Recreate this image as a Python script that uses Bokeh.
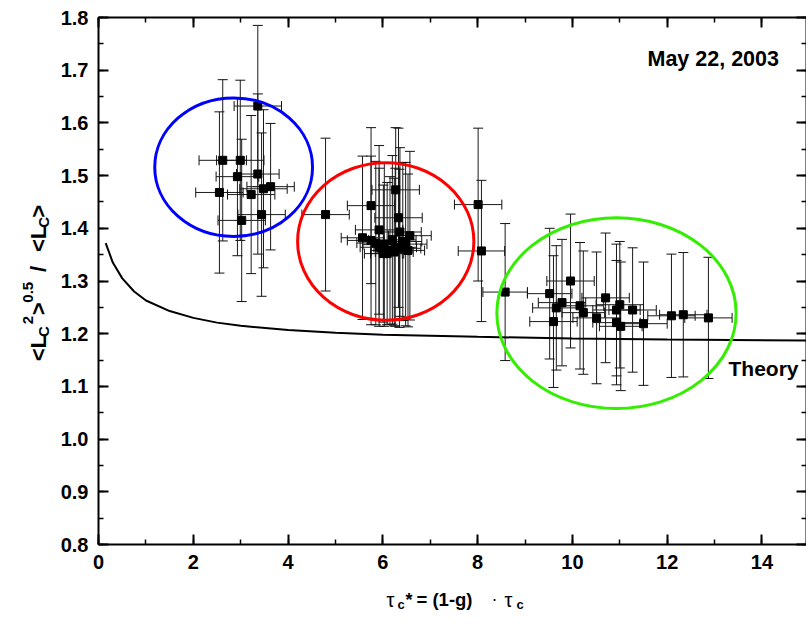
import numpy as np
from bokeh.plotting import figure
from bokeh.layouts import column, row
from bokeh.models import (ColumnDataSource, Whisker, TeeHead, Label, LinearAxis, Range1d,
                          SingleIntervalTicker, PrintfTickFormatter, CustomJSTickFormatter)
from bokeh.embed import file_html
from bokeh.resources import INLINE

# ---------------- data ----------------
# blue cluster
blue_x = [3.36, 2.62, 2.99, 3.36, 2.93, 2.55, 3.22, 3.48, 3.63, 3.44, 3.02]
blue_y = [1.632, 1.529, 1.529, 1.503, 1.498, 1.468, 1.464, 1.475, 1.479, 1.426, 1.415]
blue_xerr = [0.50, 0.50, 0.50, 0.45, 0.45, 0.50, 0.50, 0.50, 0.50, 0.50, 0.50]
blue_yerr = [0.153, 0.153, 0.152, 0.152, 0.150, 0.153, 0.150, 0.150, 0.120, 0.155, 0.154]

# red cluster
red_x = [4.79, 5.75, 6.27, 6.33, 5.92, 5.57, 5.75, 6.36, 6.57, 6.48, 5.92, 6.03,
         6.15, 6.26, 6.01, 6.09, 6.24, 6.35, 6.53, 5.85, 6.20, 6.42]
red_y = [1.426, 1.443, 1.473, 1.420, 1.397, 1.382, 1.377, 1.393, 1.386, 1.370, 1.364, 1.369,
         1.358, 1.364, 1.352, 1.352, 1.355, 1.362, 1.358, 1.372, 1.378, 1.375]
red_xerr = [0.50, 0.50, 0.50, 0.50, 0.50, 0.45, 0.50, 0.45, 0.45, 0.45, 0.40, 0.45,
            0.40, 0.45, 0.40, 0.35, 0.40, 0.45, 0.35, 0.40, 0.50, 0.40]
red_yerr = [0.145, 0.148, 0.118, 0.170, 0.160, 0.155, 0.160, 0.160, 0.160, 0.155, 0.150, 0.155,
            0.140, 0.150, 0.130, 0.135, 0.140, 0.150, 0.145, 0.155, 0.160, 0.150]

# two points between clusters
mid_x = [8.01, 8.08]
mid_y = [1.445, 1.357]
mid_xerr = [0.50, 0.49]
mid_yerr = [0.145, 0.134]

# green cluster
green_x = [8.58, 9.52, 9.96, 9.78, 9.66, 9.60, 10.16, 10.23, 10.51, 10.70, 10.93, 11.00,
           10.93, 11.02, 11.27, 11.50, 12.09, 12.34, 12.87]
green_y = [1.279, 1.276, 1.300, 1.259, 1.249, 1.223, 1.253, 1.240, 1.230, 1.268, 1.245, 1.255,
           1.221, 1.214, 1.245, 1.219, 1.234, 1.236, 1.230]
green_xerr = [0.47, 0.47, 0.50, 0.50, 0.50, 0.50, 0.50, 0.45, 0.50, 0.50, 0.50, 0.50,
              0.50, 0.45, 0.50, 0.50, 0.50, 0.50, 0.50]
green_yerr = [0.130, 0.124, 0.127, 0.120, 0.118, 0.125, 0.120, 0.117, 0.125, 0.123, 0.125, 0.120,
              0.118, 0.122, 0.118, 0.117, 0.117, 0.118, 0.115]

# theory curve
theory_x = [0.15, 0.3, 0.5, 0.75, 1.0, 1.5, 2.0, 2.5, 3.0, 4.0, 5.0, 6.0, 8.0, 10.0, 12.0, 15.0]
theory_y = [1.372, 1.335, 1.305, 1.280, 1.263, 1.243, 1.230, 1.221, 1.215, 1.207, 1.202,
            1.198, 1.194, 1.191, 1.189, 1.187]

# ellipses: center x, center y, width, height, colour
ell_x = [2.85, 6.06, 10.93]
ell_y = [1.516, 1.375, 1.239]
ell_w = [3.33, 3.72, 5.05]
ell_h = [0.263, 0.299, 0.362]
ell_c = ["#0000ff", "#ff0000", "#33ee00"]

# ---------------- geometry ----------------
X_START, X_END = -0.002, 14.94
Y_START, Y_END = 0.8, 1.8
YLAB_W = 54
LEFT, TOP, BOTTOM = 98 - YLAB_W, 17, 40
FRAME_W, FRAME_H = 708, 527
MAIN_H = TOP + FRAME_H + BOTTOM
XLAB_H = 40
FONT = "Liberation Sans"

p = figure(frame_width=FRAME_W, frame_height=FRAME_H,
           x_range=Range1d(X_START, X_END), y_range=Range1d(Y_START, Y_END),
           output_backend="svg", toolbar_location=None,
           min_border_left=LEFT, min_border_top=TOP, min_border_right=0,
           min_border_bottom=BOTTOM, x_axis_type=None, y_axis_type=None)
p.outline_line_color = None
p.background_fill_color = "white"
p.border_fill_color = "white"


def style_axis(ax, labels):
    ax.axis_line_width = 2
    ax.axis_line_color = "black"
    ax.major_tick_in = 10
    ax.major_tick_out = 0
    ax.minor_tick_in = 5
    ax.minor_tick_out = 0
    ax.major_tick_line_width = 2
    ax.minor_tick_line_width = 1.5
    ax.major_tick_line_color = "black"
    ax.minor_tick_line_color = "black"
    if labels:
        ax.major_label_text_font = FONT
        ax.major_label_text_font_style = "bold"
        ax.major_label_text_font_size = "20px"
        ax.major_label_text_color = "black"
        ax.major_label_standoff = 10
    else:
        ax.formatter = CustomJSTickFormatter(code="return ''")
        ax.major_label_standoff = 0
        ax.major_label_text_font_size = "1px"


for loc in ["below", "above"]:
    ax = LinearAxis(ticker=SingleIntervalTicker(interval=2, num_minor_ticks=2))
    if loc == "below":
        ax.formatter = PrintfTickFormatter(format="%d")
    style_axis(ax, loc == "below")
    p.add_layout(ax, loc)

for loc in ["left", "right"]:
    ax = LinearAxis(ticker=SingleIntervalTicker(interval=0.1, num_minor_ticks=2))
    if loc == "left":
        ax.formatter = PrintfTickFormatter(format="%.1f")
    style_axis(ax, loc == "left")
    p.add_layout(ax, loc)

# theory line
p.line(theory_x, theory_y, line_color="black", line_width=2)

# error bars + points
all_x = blue_x + red_x + mid_x + green_x
all_y = blue_y + red_y + mid_y + green_y
all_xe = blue_xerr + red_xerr + mid_xerr + green_xerr
all_ye = blue_yerr + red_yerr + mid_yerr + green_yerr
src = ColumnDataSource(dict(
    x=all_x, y=all_y,
    xl=[a - b for a, b in zip(all_x, all_xe)], xu=[a + b for a, b in zip(all_x, all_xe)],
    yl=[a - b for a, b in zip(all_y, all_ye)], yu=[a + b for a, b in zip(all_y, all_ye)],
))


def head():
    return TeeHead(size=10, line_color="#111111", line_width=1)


p.add_layout(Whisker(source=src, base="x", lower="yl", upper="yu", dimension="height",
                     line_color="#1a1a1a", line_width=1,
                     upper_head=head(), lower_head=head()))
p.add_layout(Whisker(source=src, base="y", lower="xl", upper="xu", dimension="width",
                     line_color="#1a1a1a", line_width=1,
                     upper_head=head(), lower_head=head()))
p.scatter(x="x", y="y", source=src, marker="square", size=8, color="black")

# ellipses
p.ellipse(x=ell_x, y=ell_y, width=ell_w, height=ell_h, fill_color=None,
          line_color=ell_c, line_width=3)


# page-pixel -> data helpers for the in-frame labels
def px2x(px):
    return X_START + (px - 98) / FRAME_W * (X_END - X_START)


def py2y(py):
    return Y_START + (TOP + FRAME_H - py) / FRAME_H * (Y_END - Y_START)


p.add_layout(Label(x=px2x(647), y=py2y(58), text="May 22, 2003", text_font=FONT,
                   text_font_style="bold", text_font_size="21.5px", text_color="black",
                   text_baseline="alphabetic"))
p.add_layout(Label(x=px2x(728), y=py2y(368), text="Theory", text_font=FONT,
                   text_font_style="bold", text_font_size="21px", text_color="black",
                   text_baseline="alphabetic"))

# ---------------- y-axis title (own narrow figure, page pixel coords) ----------------
yfig = figure(width=YLAB_W, height=MAIN_H, x_range=Range1d(0, YLAB_W),
              y_range=Range1d(MAIN_H, 0), output_backend="svg", toolbar_location=None,
              min_border=0, x_axis_type=None, y_axis_type=None)
yfig.outline_line_color = None
# (text, start y = lower end of the rotated piece, size, kind)
yt = [("<L", 381, 22, "main"), ("C", 354, 15, "sub"), ("2", 340, 15, "sup"),
      (">", 330, 22, "main"), ("0.5", 316, 15, "sup"), ("/", 282, 22, "main"),
      ("<L", 260, 22, "main"), ("C", 233, 15, "sub"), (">", 222, 22, "main")]
base_x = {"main": 38, "sub": 43, "sup": 27}
for t, y0, sz, kind in yt:
    yfig.add_layout(Label(x=base_x[kind], y=y0, text=t, text_font=FONT,
                          text_font_style="bold", text_font_size=f"{sz}px", text_color="black",
                          text_baseline="alphabetic", angle=np.pi / 2))

# ---------------- x-axis title (own short figure, page pixel coords) ----------------
TOTAL_W = 808
xfig = figure(width=TOTAL_W, height=XLAB_H, x_range=Range1d(0, TOTAL_W),
              y_range=Range1d(MAIN_H + XLAB_H, MAIN_H), output_backend="svg",
              toolbar_location=None, min_border=0, x_axis_type=None, y_axis_type=None)
xfig.outline_line_color = None
xt = [("τ", 386, 599, "20px", "normal"),
      ("c", 397, 604, "13px", "bold"),
      ("*", 405, 599, "18px", "bold"),
      ("= (1-g)", 416, 599, "18.5px", "bold"),
      ("·", 491, 598, "18px", "normal"),
      ("τ", 504, 599, "20px", "normal"),
      ("c", 516, 604, "13px", "bold")]
for t, px, py, sz, st in xt:
    xfig.add_layout(Label(x=px, y=py, text=t, text_font=FONT, text_font_style=st,
                          text_font_size=sz, text_color="black", text_baseline="alphabetic"))

layout = column(row(yfig, p, spacing=0), xfig, spacing=0)
open("out.html", "w").write(file_html(layout, INLINE))
